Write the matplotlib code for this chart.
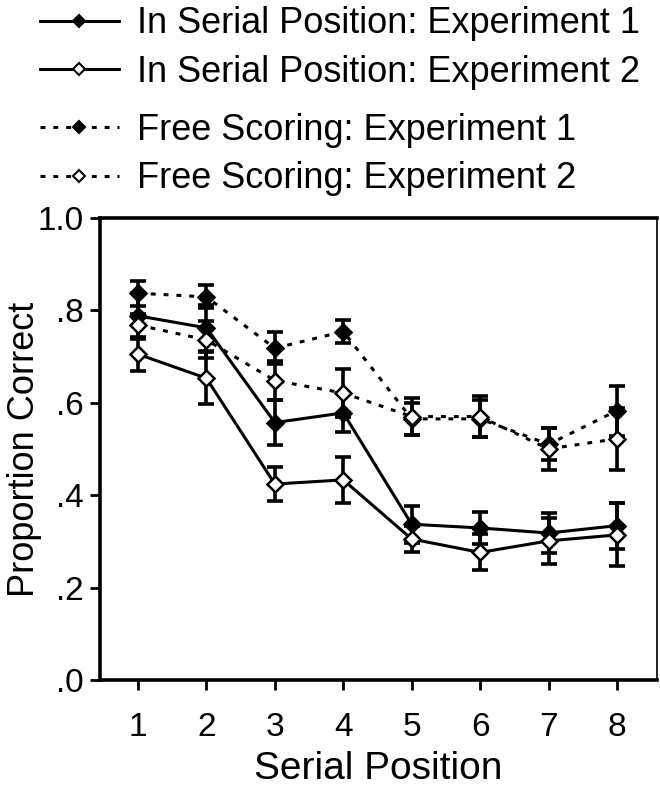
import numpy as np
import matplotlib.pyplot as plt
from matplotlib.lines import Line2D

plt.rcParams['font.family'] = ['Liberation Sans', 'DejaVu Sans']

# serial positions and proportion correct
positions = [1, 2, 3, 4, 5, 6, 7, 8]

serial_exp1 = [0.788, 0.762, 0.557, 0.578, 0.337, 0.329, 0.318, 0.334]
serial_exp1_err = [0.05, 0.05, 0.048, 0.042, 0.04, 0.035, 0.044, 0.05]

serial_exp2 = [0.705, 0.653, 0.424, 0.433, 0.305, 0.276, 0.301, 0.314]
serial_exp2_err = [0.036, 0.056, 0.036, 0.05, 0.028, 0.039, 0.05, 0.068]

free_exp1 = [0.837, 0.829, 0.718, 0.754, 0.565, 0.565, 0.51, 0.583]
free_exp1_err = [0.027, 0.025, 0.035, 0.025, 0.035, 0.04, 0.035, 0.054]

free_exp2 = [0.768, 0.736, 0.648, 0.621, 0.57, 0.57, 0.50, 0.522]
free_exp2_err = [0.025, 0.04, 0.042, 0.052, 0.04, 0.045, 0.045, 0.067]

labels = ['In Serial Position: Experiment 1',
          'In Serial Position: Experiment 2',
          'Free Scoring: Experiment 1',
          'Free Scoring: Experiment 2']

dotted = (0, (1.6, 2.6))

fig = plt.figure(figsize=(6.6, 7.94), dpi=100)
ax = fig.add_axes([0.1515, 0.1436, 0.844, 0.582])

series = [
    (serial_exp1, serial_exp1_err, '-', 'black'),
    (serial_exp2, serial_exp2_err, '-', 'white'),
    (free_exp1, free_exp1_err, dotted, 'black'),
    (free_exp2, free_exp2_err, dotted, 'white'),
]

handles = []
for (vals, errs, ls, face), lab in zip(series, labels):
    ax.errorbar(positions, vals, yerr=errs, fmt='none', ecolor='black',
                elinewidth=2.6, capsize=6, capthick=2.6, zorder=2)
    ax.plot(positions, vals, linestyle=ls, color='black', linewidth=2.2,
            marker='D', markersize=8, markerfacecolor=face,
            markeredgecolor='black', markeredgewidth=1.8, zorder=3)
    handles.append(Line2D([], [], linestyle=ls, color='black', linewidth=2.2,
                          marker='D', markersize=6, markerfacecolor=face,
                          markeredgecolor='black', markeredgewidth=1.5))

ax.set_xlim(0.445, 8.585)
ax.set_ylim(0, 1.0)
ax.set_xticks(positions)
ax.set_yticks([0, 0.2, 0.4, 0.6, 0.8, 1.0])
ax.set_yticklabels(['.0', '.2', '.4', '.6', '.8', '1.0'])
ax.tick_params(axis='both', direction='out', width=2, length=7,
               labelsize=24, pad=5)
ax.tick_params(axis='x', pad=16)
for side in ['left', 'bottom', 'top']:
    ax.spines[side].set_linewidth(2.6)
ax.spines['right'].set_linewidth(1.2)

ax.set_xlabel('Serial Position', fontsize=28, labelpad=6)
ax.set_ylabel('Proportion Correct', fontsize=26, va='center')
ax.yaxis.set_label_coords(-0.135, 0.5)

leg_kw = dict(frameon=False, fontsize=26, handlelength=2.2, handletextpad=0.5,
              borderaxespad=0, borderpad=0, labelspacing=0.38,
              loc='upper left')
fig.legend(handles[:2], labels[:2], bbox_to_anchor=(0.06, 0.992), **leg_kw)
fig.legend(handles[2:], labels[2:], bbox_to_anchor=(0.06, 0.858), **leg_kw)

fig.savefig('out.png', dpi=100)
